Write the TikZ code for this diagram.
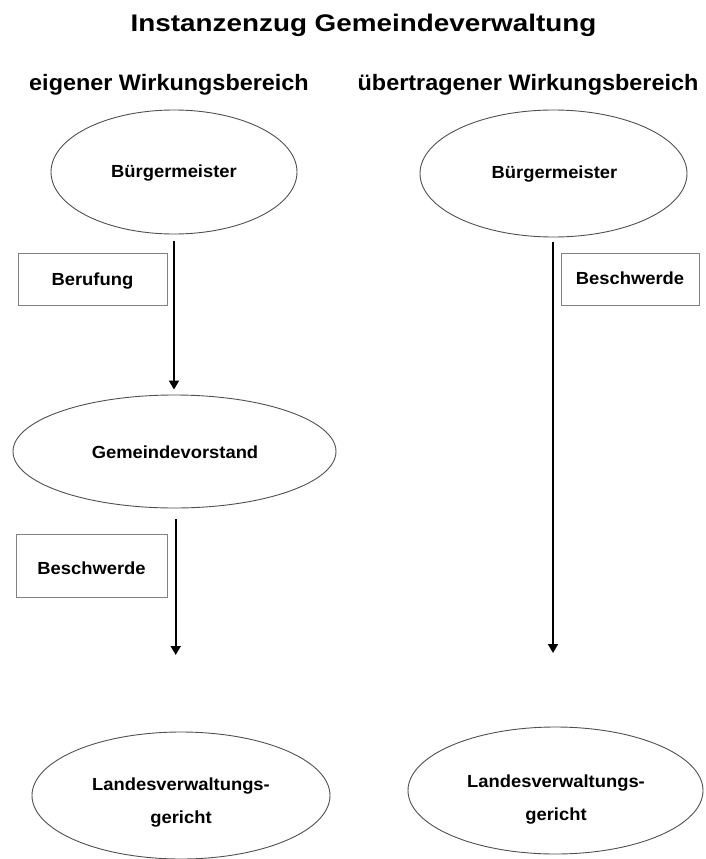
\documentclass[tikz,border=0pt]{standalone}
\usepackage{fontspec}
\setmainfont{Liberation Sans}
\newfontfamily\titlefnt[FakeStretch=1.16]{Liberation Sans}
\newfontfamily\subfnt[FakeStretch=1.05]{Liberation Sans}
\newfontfamily\nodefnt[FakeStretch=1.05]{Liberation Sans}
\usetikzlibrary{shapes.geometric,arrows.meta}
\definecolor{ellcol}{HTML}{505050}
\definecolor{boxcol}{HTML}{808080}
\tikzset{
  ell/.style={ellipse, draw=ellcol, line width=0.9pt, inner sep=0pt},
  lblbox/.style={rectangle, draw=boxcol, line width=0.9pt, inner sep=0pt},
  txt/.style={anchor=base, inner sep=0pt, font=\nodefnt\bfseries\fontsize{17.5}{33}\selectfont},
  arr/.style={draw=black, line width=1.8pt, -{Triangle[length=9pt,width=10pt]}}
}
\begin{document}
\begin{tikzpicture}[x=1pt,y=-1pt]
\useasboundingbox (0,0) rectangle (706,859);
\clip (0,0) rectangle (706,859);

% title and headings
\node[anchor=base, inner sep=0pt, font=\titlefnt\bfseries\fontsize{24}{28}\selectfont] (title) at (363.5,32) {Instanzenzug Gemeindeverwaltung};
\node[anchor=base, inner sep=0pt, font=\subfnt\bfseries\fontsize{22.3}{26}\selectfont] (hl) at (169,90) {eigener Wirkungsbereich};
\node[anchor=base, inner sep=0pt, font=\subfnt\bfseries\fontsize{22.3}{26}\selectfont] (hr) at (528,90) {übertragener Wirkungsbereich};

% ellipses
\node[ell, minimum width=246pt, minimum height=124pt] (bm1) at (174,172) {};
\node[ell, minimum width=267pt, minimum height=127pt] (bm2) at (553.5,173.5) {};
\node[ell, minimum width=323pt, minimum height=113pt] (gv) at (174.5,451.5) {};
\node[ell, minimum width=298pt, minimum height=127pt] (lvg1) at (181,795.5) {};
\node[ell, minimum width=295pt, minimum height=127pt] (lvg2) at (555.5,790.5) {};

% boxes
\node[lblbox, minimum width=149pt, minimum height=52pt] (bx1) at (92.5,279) {};
\node[lblbox, minimum width=151pt, minimum height=63pt] (bx2) at (91.5,565.5) {};
\node[lblbox, minimum width=138pt, minimum height=52pt] (bx3) at (630,279) {};

% texts
\node[txt] (t1) at (174,177) {Bürgermeister};
\node[txt] (t2) at (554.5,178) {Bürgermeister};
\node[txt] (t3) at (175,458.7) {Gemeindevorstand};
\node[txt] (t4) at (92.4,285) {Berufung};
\node[txt] (t5) at (91.5,574) {Beschwerde};
\node[txt] (t6) at (630,284) {Beschwerde};
\node[txt, align=center] (t7) at (181,823) {Landesverwaltungs-\\gericht};
\node[txt, align=center] (t8) at (556,820) {Landesverwaltungs-\\gericht};

% connectors
\coordinate (e1) at (175.7,655);
\coordinate (e2) at (553,653);
\draw[arr, shorten <=7pt, shorten >=5pt] (bm1.south) -- (gv.north -| bm1.south);
\draw[arr, shorten <=11pt] (gv.south -| e1) -- (e1);
\draw[arr, shorten <=5pt] (bm2.south -| e2) -- (e2);
\end{tikzpicture}
\end{document}
